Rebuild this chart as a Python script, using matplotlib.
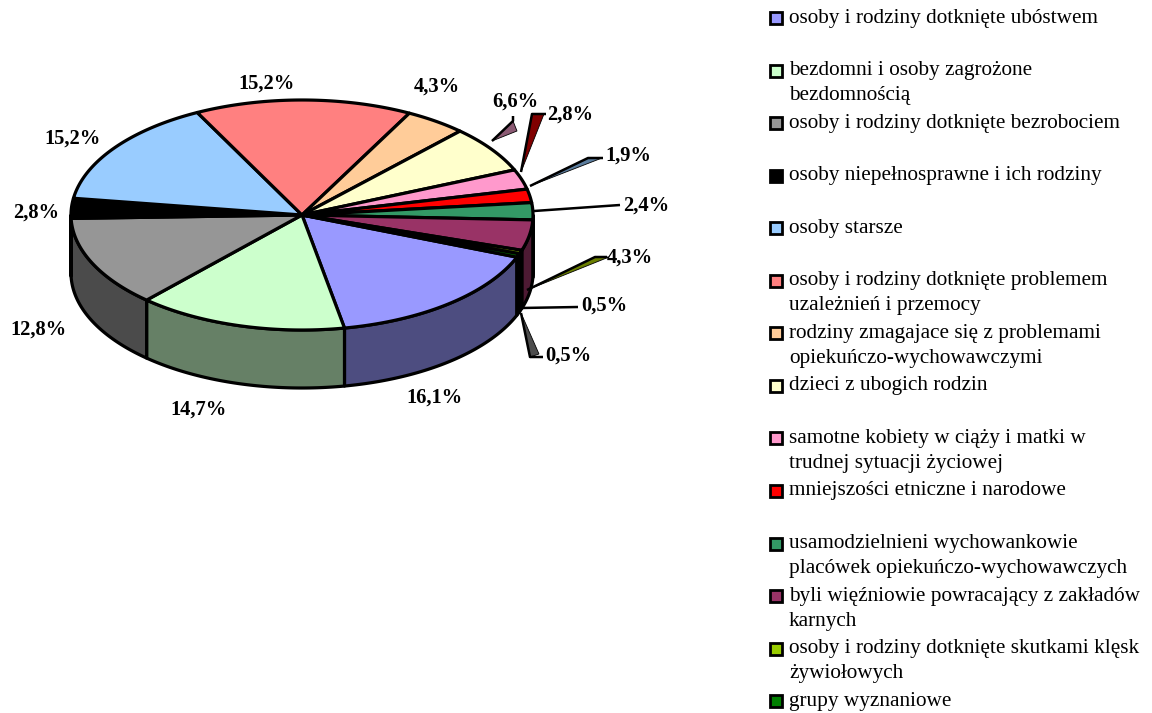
import numpy as np
import matplotlib.pyplot as plt
import matplotlib.colors as mcolors
from matplotlib.patches import Polygon, Rectangle

# --- data ---
categories = [
    "osoby i rodziny dotknięte ubóstwem",
    "bezdomni i osoby zagrożone\nbezdomnością",
    "osoby i rodziny dotknięte bezrobociem",
    "osoby niepełnosprawne i ich rodziny",
    "osoby starsze",
    "osoby i rodziny dotknięte problemem\nuzależnień i przemocy",
    "rodziny zmagajace się z problemami\nopiekuńczo-wychowawczymi",
    "dzieci z ubogich rodzin",
    "samotne kobiety w ciąży i matki w\ntrudnej sytuacji życiowej",
    "mniejszości etniczne i narodowe",
    "usamodzielnieni wychowankowie\nplacówek opiekuńczo-wychowawczych",
    "byli więźniowie powracający z zakładów\nkarnych",
    "osoby i rodziny dotknięte skutkami klęsk\nżywiołowych",
    "grupy wyznaniowe",
]
values = [16.1, 14.7, 12.8, 2.8, 15.2, 15.2, 4.3, 6.6, 2.8, 1.9, 2.4, 4.3, 0.5, 0.5]
value_labels = ["16,1%", "14,7%", "12,8%", "2,8%", "15,2%", "15,2%", "4,3%",
                "6,6%", "2,8%", "1,9%", "2,4%", "4,3%", "0,5%", "0,5%"]
colors = ["#9999FF", "#CCFFCC", "#969696", "#000000", "#99CCFF", "#FF8080", "#FFCC99",
          "#FFFFCC", "#FF99CC", "#FF0000", "#339966", "#993366", "#99CC00", "#008000"]

# --- layout (pixels) ---
W, H = 1152, 713
cx, cy, rx, ry, depth = 302, 215, 231, 115, 58
start = -21.5
label_xy = [(434, 398), (198, 410), (38, 330), (36, 213), (72, 139), (266, 84), (437, 87),
            (515, 102), (570, 115), (628, 156), (646, 206), (630, 258), (604, 306), (568, 356)]
# leader lines: slice index -> (points, sliver colour, sliver offset)
leaders = {
    7: ([(492, 141), (513, 121), (513, 116)], "#8B5A73", (4, 10)),
    8: ([(521, 172), (532, 114), (546, 114)], "#800000", (12, 0)),
    9: ([(530, 186), (588, 158), (603, 158)], "#5B7D9E", (14, 0)),
    10: ([(534, 211), (620, 205)], None, None),
    11: ([(527, 290), (595, 257), (607, 257)], "#6B7F00", (14, 0)),
    12: ([(521, 308), (578, 307)], None, None),
    13: ([(521, 313), (530, 357), (543, 357)], "#4D4D4D", (9, -3)),
}

plt.rcParams['font.family'] = ['Liberation Serif', 'DejaVu Serif']

fig = plt.figure(figsize=(W / 100, H / 100), dpi=100)
ax = fig.add_axes([0, 0, 1, 1])
ax.set_xlim(0, W)
ax.set_ylim(H, 0)
ax.axis('off')


def arc(a, b, n=80):
    t = np.radians(np.linspace(a, b, n))
    return np.column_stack([cx + rx * np.cos(t), cy - ry * np.sin(t)])


def dark(c, f=0.5):
    return tuple(np.array(mcolors.to_rgb(c)) * f)


edges = start - 360.0 * np.concatenate([[0], np.cumsum(values)]) / sum(values)

# side walls (front half only)
for i, c in enumerate(colors):
    hi, lo = edges[i], edges[i + 1]
    for vlo, vhi in [(-180, 0), (-540, -360)]:
        a, b = max(lo, vlo), min(hi, vhi)
        if b > a:
            top = arc(b, a)
            bot = arc(a, b) + [0, depth]
            ax.add_patch(Polygon(np.vstack([top, bot]), closed=True, facecolor=dark(c),
                                 edgecolor='black', lw=2.3, joinstyle='round', zorder=1))

# top faces
for i, c in enumerate(colors):
    hi, lo = edges[i], edges[i + 1]
    pts = np.vstack([[cx, cy], arc(hi, lo)])
    ax.add_patch(Polygon(pts, closed=True, facecolor=c, edgecolor='black', lw=2.3,
                         joinstyle='round', zorder=2))

# leaders
for i, (pts, col, off) in leaders.items():
    pts = np.array(pts, dtype=float)
    if col is not None:
        p0, p1 = pts[0], pts[1]
        sl = np.array([p0, p1, p1 + np.array(off)])
        ax.add_patch(Polygon(sl, closed=True, facecolor=col, edgecolor='black', lw=0.6,
                             zorder=3))
    ax.plot(pts[:, 0], pts[:, 1], color='black', lw=1.8, zorder=4, solid_capstyle='butt')

# value labels
for (x, y), t in zip(label_xy, value_labels):
    ax.text(x, y, t, ha='center', va='center', fontsize=14.8, fontweight='bold', zorder=5)

# legend
for i, (lab, c) in enumerate(zip(categories, colors)):
    y0 = 18 + i * 52.55
    ax.add_patch(Rectangle((770, y0 - 6), 12, 12, facecolor=c, edgecolor='black', lw=2,
                           zorder=5))
    for j, line in enumerate(lab.split('\n')):
        ax.text(789, y0 + j * 25, line, ha='left', va='center', fontsize=15.3, zorder=5)

fig.savefig('out.png', dpi=100)
